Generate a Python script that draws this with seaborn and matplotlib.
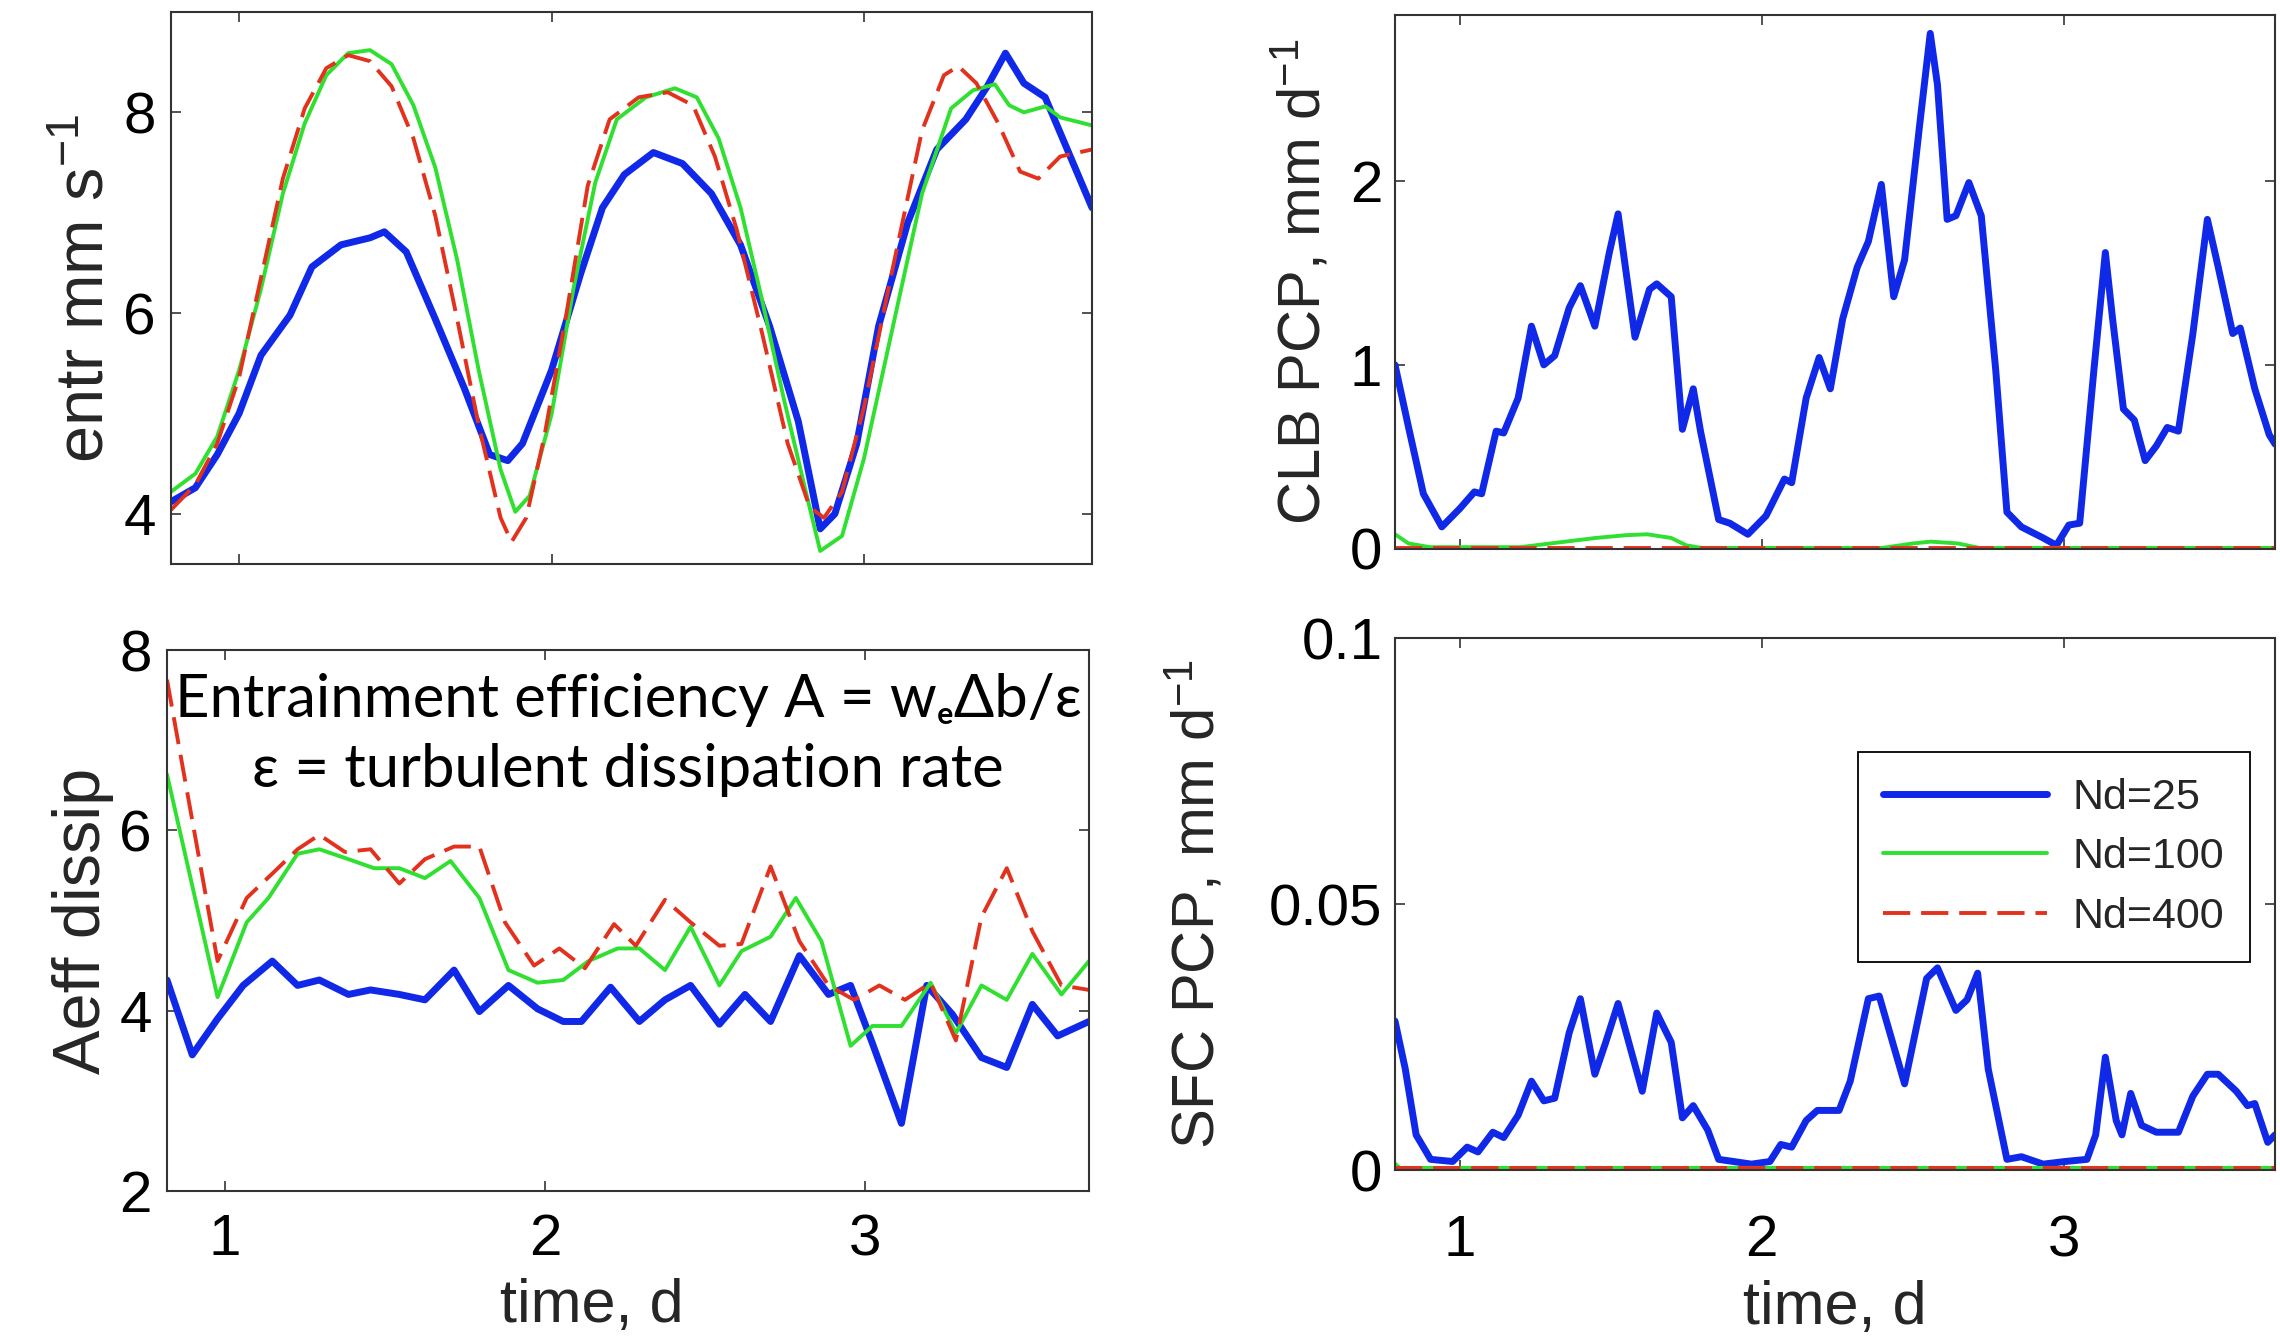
import numpy as np
import pandas as pd
import matplotlib
matplotlib.use("Agg")
import matplotlib.pyplot as plt
from matplotlib.lines import Line2D
import seaborn as sns

# ---------------- data ----------------
labels = ["Nd=25", "Nd=100", "Nd=400"]

# entrainment rate, mm s-1
entr_t_25 = [0.782, 0.86, 0.93, 1.00, 1.07, 1.163, 1.233, 1.326, 1.419, 1.465, 1.535, 1.628,
             1.721, 1.802, 1.86, 1.907, 2.0, 2.093, 2.163, 2.233, 2.326, 2.419, 2.512, 2.605,
             2.698, 2.79, 2.86, 2.907, 2.977, 3.047, 3.14, 3.233, 3.326, 3.395, 3.453, 3.512,
             3.58, 3.651, 3.73]
entr_25 = [4.12, 4.26, 4.59, 5.00, 5.58, 5.98, 6.46, 6.68, 6.75, 6.81, 6.61, 5.94,
           5.25, 4.59, 4.53, 4.70, 5.43, 6.39, 7.05, 7.38, 7.60, 7.49, 7.19, 6.68,
           5.87, 4.92, 3.85, 4.00, 4.70, 5.87, 6.90, 7.63, 7.93, 8.26, 8.59, 8.29,
           8.15, 7.63, 7.05]
entr_t_100 = [0.782, 0.86, 0.93, 1.00, 1.07, 1.14, 1.21, 1.279, 1.349, 1.419, 1.488, 1.558,
              1.628, 1.698, 1.767, 1.837, 1.884, 1.93, 2.0, 2.07, 2.14, 2.209, 2.302, 2.395,
              2.465, 2.535, 2.605, 2.674, 2.744, 2.814, 2.86, 2.93, 3.0, 3.093, 3.186, 3.279,
              3.349, 3.419, 3.465, 3.512, 3.581, 3.628, 3.73]
entr_100 = [4.22, 4.40, 4.77, 5.43, 6.24, 7.19, 7.89, 8.37, 8.59, 8.62, 8.48, 8.07,
            7.45, 6.53, 5.43, 4.44, 4.02, 4.18, 4.99, 6.24, 7.30, 7.93, 8.15, 8.24,
            8.15, 7.74, 7.05, 6.13, 5.14, 4.22, 3.63, 3.78, 4.55, 5.87, 7.19, 8.04,
            8.22, 8.28, 8.07, 8.00, 8.06, 7.95, 7.87]
entr_t_400 = [0.782, 0.86, 0.93, 1.00, 1.07, 1.14, 1.21, 1.279, 1.349, 1.419, 1.488, 1.558,
              1.628, 1.698, 1.767, 1.837, 1.872, 1.919, 1.977, 2.047, 2.116, 2.186, 2.279, 2.372,
              2.453, 2.523, 2.593, 2.674, 2.756, 2.826, 2.872, 2.93, 3.0, 3.093, 3.186, 3.256,
              3.302, 3.36, 3.43, 3.5, 3.558, 3.628, 3.73]
entr_400 = [4.04, 4.29, 4.70, 5.36, 6.35, 7.34, 8.04, 8.44, 8.57, 8.51, 8.26, 7.74,
            6.97, 5.94, 4.88, 3.96, 3.72, 3.96, 4.77, 5.98, 7.27, 7.93, 8.15, 8.20,
            8.07, 7.56, 6.83, 5.80, 4.70, 4.07, 3.96, 4.22, 5.06, 6.46, 7.82, 8.37,
            8.46, 8.29, 7.89, 7.41, 7.34, 7.56, 7.63]

# entrainment efficiency (Aeff dissip)
aeff_t_25 = [0.819, 0.898, 0.977, 1.057, 1.148, 1.227, 1.295, 1.386, 1.455, 1.545, 1.625, 1.716,
             1.795, 1.886, 1.977, 2.057, 2.114, 2.205, 2.295, 2.375, 2.455, 2.545, 2.625, 2.705,
             2.795, 2.886, 2.955, 3.023, 3.114, 3.193, 3.273, 3.364, 3.443, 3.523, 3.602, 3.70]
aeff_25 = [4.34, 3.51, 3.91, 4.28, 4.55, 4.28, 4.34, 4.18, 4.23, 4.18, 4.12, 4.45,
           3.99, 4.28, 4.02, 3.88, 3.88, 4.26, 3.88, 4.12, 4.28, 3.85, 4.18, 3.88,
           4.61, 4.18, 4.28, 3.64, 2.75, 4.28, 3.96, 3.48, 3.37, 4.07, 3.72, 3.88]
aeff_t_100 = [0.819, 0.977, 1.068, 1.136, 1.227, 1.295, 1.386, 1.466, 1.545, 1.625, 1.705, 1.795,
              1.886, 1.977, 2.057, 2.136, 2.227, 2.295, 2.375, 2.455, 2.545, 2.614, 2.705, 2.784,
              2.864, 2.955, 3.023, 3.114, 3.205, 3.284, 3.364, 3.443, 3.523, 3.614, 3.70]
aeff_100 = [6.62, 4.15, 4.98, 5.25, 5.74, 5.79, 5.68, 5.58, 5.58, 5.47, 5.66, 5.25,
            4.45, 4.31, 4.34, 4.55, 4.69, 4.69, 4.45, 4.93, 4.28, 4.66, 4.82, 5.25,
            4.77, 3.61, 3.83, 3.83, 4.31, 3.75, 4.28, 4.12, 4.63, 4.18, 4.55]
aeff_t_400 = [0.819, 0.977, 1.068, 1.148, 1.227, 1.295, 1.375, 1.455, 1.545, 1.625, 1.716, 1.795,
              1.875, 1.966, 2.045, 2.125, 2.216, 2.284, 2.375, 2.455, 2.545, 2.614, 2.705, 2.795,
              2.886, 2.966, 3.045, 3.125, 3.205, 3.284, 3.364, 3.443, 3.523, 3.614, 3.70]
aeff_400 = [7.67, 4.55, 5.25, 5.52, 5.79, 5.95, 5.76, 5.79, 5.41, 5.68, 5.82, 5.82,
            4.98, 4.50, 4.69, 4.47, 4.96, 4.72, 5.23, 4.98, 4.72, 4.74, 5.60, 4.77,
            4.28, 4.12, 4.28, 4.12, 4.31, 3.67, 5.04, 5.58, 4.88, 4.28, 4.23]

# cloud-base precipitation, mm d-1
clb_t_25 = [0.785, 0.83, 0.879, 0.94, 1.0, 1.048, 1.072, 1.12, 1.145, 1.193, 1.237, 1.278,
            1.314, 1.362, 1.399, 1.447, 1.495, 1.524, 1.58, 1.628, 1.652, 1.70, 1.737, 1.773,
            1.797, 1.857, 1.894, 1.954, 2.014, 2.075, 2.099, 2.147, 2.19, 2.227, 2.268, 2.316,
            2.353, 2.396, 2.437, 2.473, 2.522, 2.558, 2.582, 2.614, 2.643, 2.686, 2.727, 2.775,
            2.812, 2.86, 2.932, 2.976, 3.017, 3.053, 3.10, 3.138, 3.162, 3.198, 3.234, 3.27,
            3.307, 3.343, 3.38, 3.428, 3.476, 3.512, 3.56, 3.585, 3.633, 3.681, 3.70]
clb_25 = [1.00, 0.66, 0.30, 0.12, 0.22, 0.31, 0.30, 0.64, 0.63, 0.82, 1.21, 1.00,
          1.05, 1.31, 1.43, 1.21, 1.61, 1.82, 1.15, 1.41, 1.44, 1.37, 0.65, 0.87,
          0.64, 0.16, 0.14, 0.08, 0.18, 0.38, 0.36, 0.82, 1.04, 0.87, 1.25, 1.53,
          1.67, 1.98, 1.37, 1.57, 2.29, 2.80, 2.52, 1.79, 1.81, 1.99, 1.81, 0.97,
          0.20, 0.12, 0.06, 0.02, 0.13, 0.14, 0.97, 1.61, 1.25, 0.76, 0.70, 0.48,
          0.56, 0.66, 0.64, 1.17, 1.79, 1.53, 1.17, 1.20, 0.87, 0.62, 0.57]
clb_t_100 = [0.785, 0.83, 0.90, 1.20, 1.30, 1.45, 1.55, 1.62, 1.70, 1.75, 1.80, 2.40,
             2.50, 2.56, 2.65, 2.72, 3.70]
clb_100 = [0.08, 0.03, 0.01, 0.01, 0.03, 0.06, 0.075, 0.08, 0.06, 0.02, 0.006, 0.006,
           0.03, 0.04, 0.03, 0.006, 0.006]
clb_t_400 = [0.785, 1.5, 2.5, 3.70]
clb_400 = [0.006, 0.006, 0.006, 0.006]

# surface precipitation, mm d-1
sfc_t_25 = [0.785, 0.819, 0.855, 0.903, 0.976, 1.024, 1.06, 1.109, 1.145, 1.193, 1.237, 1.278,
            1.314, 1.362, 1.399, 1.447, 1.483, 1.524, 1.568, 1.604, 1.652, 1.70, 1.737, 1.773,
            1.821, 1.857, 1.906, 1.966, 2.027, 2.063, 2.099, 2.147, 2.184, 2.256, 2.293, 2.353,
            2.389, 2.473, 2.546, 2.582, 2.643, 2.68, 2.715, 2.75, 2.812, 2.86, 2.932, 3.005,
            3.077, 3.106, 3.138, 3.174, 3.193, 3.222, 3.258, 3.307, 3.38, 3.428, 3.476, 3.512,
            3.572, 3.609, 3.633, 3.676, 3.70]
sfc_25 = [0.028, 0.019, 0.0066, 0.002, 0.0016, 0.0043, 0.0034, 0.0071, 0.0061, 0.0103, 0.0167, 0.013,
          0.0135, 0.0258, 0.0322, 0.018, 0.024, 0.0313, 0.0222, 0.0148, 0.0295, 0.024, 0.0098, 0.0121,
          0.0075, 0.002, 0.0016, 0.0011, 0.0016, 0.0048, 0.0043, 0.0093, 0.0112, 0.0112, 0.0167, 0.0322,
          0.0327, 0.0162, 0.036, 0.038, 0.030, 0.032, 0.037, 0.019, 0.002, 0.0025, 0.0011, 0.0016,
          0.002, 0.0066, 0.0212, 0.0093, 0.0066, 0.0144, 0.0084, 0.0071, 0.0071, 0.0139, 0.018, 0.018,
          0.0148, 0.0121, 0.0125, 0.0052, 0.0066]
sfc_t_100 = [0.785, 0.80, 2.0, 3.70]
sfc_100 = [0.0012, 0.0004, 0.0004, 0.0004]
sfc_t_400 = [0.785, 2.0, 3.70]
sfc_400 = [0.0004, 0.0004, 0.0004]

# axis settings
entr_ylim, aeff_ylim, clb_ylim, sfc_ylim = (3.5, 9.0), (2, 8), (0, 2.9), (0, 0.1)
entr_yticks, aeff_yticks, clb_yticks, sfc_yticks = [4, 6, 8], [2, 4, 6, 8], [0, 1, 2], [0, 0.05, 0.1]
sfc_yticklabels = ["0", "0.05", "0.1"]
xticks = [1, 2, 3]

# ---------------- style ----------------
BLUE, GREEN, RED = "#1028e8", "#30e030", "#e2321e"
palette = dict(zip(labels, [BLUE, GREEN, RED]))
sizes = dict(zip(labels, [5.0, 2.8, 2.8]))
dashes = dict(zip(labels, ["", "", (7, 2.8)]))

sns.set_theme(style="ticks")
plt.rcParams["font.family"] = ["Liberation Sans", "DejaVu Sans"]
plt.rcParams["mathtext.default"] = "regular"

W, H = 2280, 1343
fig = plt.figure(figsize=(W / 100, H / 100), dpi=100)
fig.patch.set_facecolor("white")


def px_axes(l, t, r, b):
    return fig.add_axes([l / W, 1 - b / H, (r - l) / W, (b - t) / H])


def long_df(pairs):
    frames = [pd.DataFrame({"time": t, "val": v, "Nd": lab}) for lab, (t, v) in zip(labels, pairs)]
    return pd.concat(frames, ignore_index=True)


def draw(ax, pairs):
    sns.lineplot(data=long_df(pairs), x="time", y="val", hue="Nd", style="Nd", size="Nd",
                 hue_order=labels, style_order=labels, size_order=labels,
                 palette=palette, sizes=sizes, dashes=dashes,
                 estimator=None, sort=False, legend=False, ax=ax)


def style_axes(ax, xlim, ylim, yticks, xpad, ypad, labelbottom=True, yticklabels=None):
    ax.set_xlim(*xlim)
    ax.set_ylim(*ylim)
    ax.set_xticks(xticks)
    ax.set_yticks(yticks)
    if yticklabels is not None:
        ax.set_yticklabels(yticklabels)
    ax.tick_params(axis="both", direction="in", top=True, right=True, length=7, width=1.1,
                   colors="#222222", labelcolor="black", labelsize=42)
    ax.tick_params(axis="x", pad=xpad, labelbottom=labelbottom)
    ax.tick_params(axis="y", pad=ypad)
    for s in ax.spines.values():
        s.set_visible(True)
        s.set_color("#333333")
        s.set_linewidth(1.5)
    ax.set_facecolor("white")
    ax.set_xlabel("")
    ax.set_ylabel("")


axA = px_axes(171, 12, 1092, 564)
axC = px_axes(167, 650, 1089, 1191)
axB = px_axes(1395, 15, 2275, 549)
axD = px_axes(1395, 638, 2275, 1170)

draw(axA, [(entr_t_25, entr_25), (entr_t_100, entr_100), (entr_t_400, entr_400)])
draw(axC, [(aeff_t_25, aeff_25), (aeff_t_100, aeff_100), (aeff_t_400, aeff_400)])
draw(axB, [(clb_t_25, clb_25), (clb_t_100, clb_100), (clb_t_400, clb_400)])
draw(axD, [(sfc_t_25, sfc_25), (sfc_t_100, sfc_100), (sfc_t_400, sfc_400)])

style_axes(axA, (0.782, 3.73), entr_ylim, entr_yticks, 16, 11, labelbottom=False)
style_axes(axC, (0.819, 3.70), aeff_ylim, aeff_yticks, 16, 11)
style_axes(axB, (0.785, 3.70), clb_ylim, clb_yticks, 16, 9, labelbottom=False)
style_axes(axD, (0.785, 3.70), sfc_ylim, sfc_yticks, 32, 9, yticklabels=sfc_yticklabels)

axA.set_ylabel("entr mm s$^{-1}$", fontsize=48, labelpad=4)
axC.set_ylabel("Aeff dissip", fontsize=48, labelpad=4)
axB.set_ylabel("CLB PCP, mm d$^{-1}$", fontsize=43, labelpad=12)
axD.set_ylabel("SFC PCP, mm d$^{-1}$", fontsize=43, labelpad=30)
axC.set_xlabel("time, d", fontsize=44, labelpad=8, x=0.461)
axD.set_xlabel("time, d", fontsize=44, labelpad=8)

# annotation text overlaid on the efficiency panel
ann_family = ["Lato", "Noto Sans", "DejaVu Sans"]
axC.text(0.5, 0.876, "Entrainment efficiency A = w\u2091\u0394b/\u03b5", transform=axC.transAxes,
         ha="center", va="baseline", fontsize=43, color="black", family=ann_family)
axC.text(0.5, 0.747, "\u03b5 = turbulent dissipation rate", transform=axC.transAxes,
         ha="center", va="baseline", fontsize=43, color="black", family=ann_family)

# legend
handles = [Line2D([], [], color=palette[l], linewidth=sizes[l],
                  linestyle=(0, dashes[l]) if dashes[l] else "-") for l in labels]
leg = axD.legend(handles, labels, loc="upper left", bbox_to_anchor=(0.5256, 0.7857),
                 borderaxespad=0, fontsize=31, handlelength=3.8, handletextpad=0.6,
                 labelspacing=0.45, borderpad=0.6, fancybox=False, framealpha=1,
                 edgecolor="black", frameon=True)
leg.get_frame().set_linewidth(1.3)

fig.savefig("out.png", dpi=100, facecolor="white")
